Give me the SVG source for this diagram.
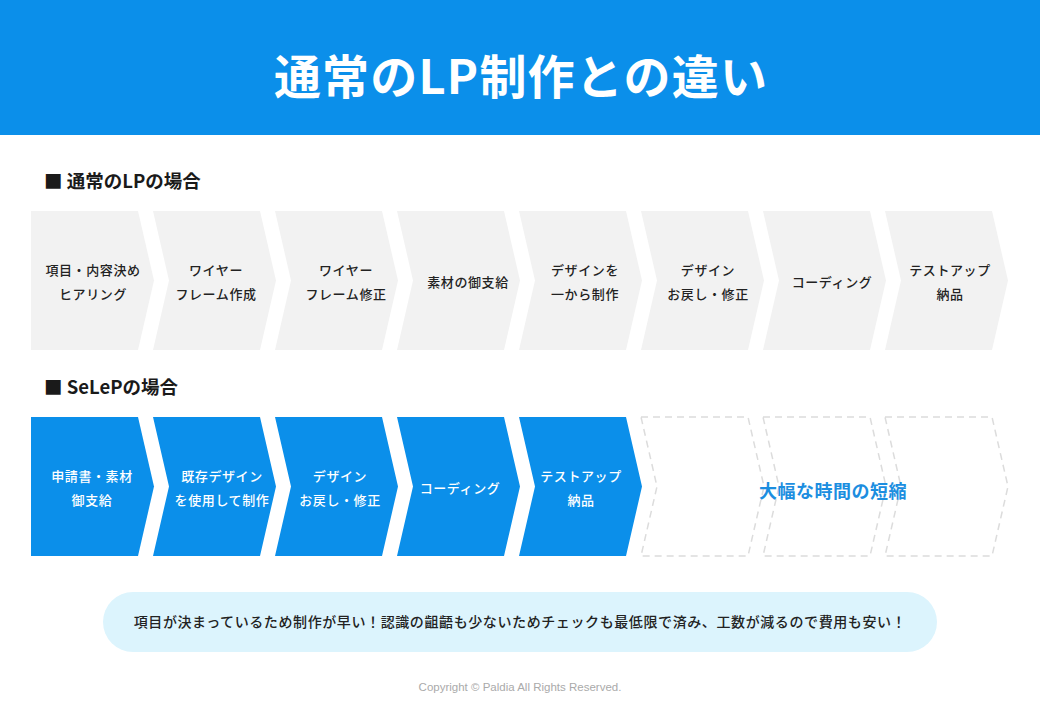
<svg xmlns="http://www.w3.org/2000/svg" width="1040" height="720" viewBox="0 0 1040 720">
<style>
  text { font-family: "Noto Sans CJK JP", "Noto Sans", sans-serif; }
  .title { font-size: 47px; font-weight: 700; fill: #ffffff; letter-spacing: 1.2px; }
  .head { font-size: 18.5px; font-weight: 700; fill: #1a1a1a; }
  .grey { fill: #f2f2f2; }
  .blue { fill: #0b8fea; }
  .dash { fill: none; stroke: #dcdcdc; stroke-width: 1.5; stroke-dasharray: 7 5; }
  .lbl { font-size: 13px; font-weight: 500; fill: #222222; text-anchor: middle; letter-spacing: 0.6px; }
  .lblw { font-size: 13px; font-weight: 500; fill: #ffffff; text-anchor: middle; letter-spacing: 0.6px; }
  .big { font-size: 18px; font-weight: 700; fill: #1c8ee0; text-anchor: middle; letter-spacing: 0.5px; }
  .note { font-size: 14px; font-weight: 500; fill: #222222; text-anchor: middle; letter-spacing: 0.6px; }
  .copy { font-family: "Liberation Sans", Arial, sans-serif; font-size: 11.5px; fill: #aaaaaa; text-anchor: middle; }
</style>
<rect x="0" y="0" width="1040" height="720" fill="#ffffff"/>
<g id="header">
  <rect x="0" y="0" width="1040" height="135" fill="#0b8fea"/>
  <text class="title" x="521" y="94" text-anchor="middle">通常のLP制作との違い</text>
</g>
<g id="heading-normal"><text class="head" x="44" y="188">■ 通常のLPの場合</text></g>
<g id="heading-selep"><text class="head" x="44" y="394">■ SeLePの場合</text></g>

<g id="n1-1"><path class="grey" d="M31,211 L138,211 L154,280.5 L138,350 L31,350 Z"/>
  <text class="lbl" x="93" y="275">項目・内容決め</text><text class="lbl" x="93" y="299">ヒアリング</text></g>
<g id="n1-2"><path class="grey" d="M153,211 L260,211 L276,280.5 L260,350 L153,350 L169,280.5 Z"/>
  <text class="lbl" x="216" y="275">ワイヤー</text><text class="lbl" x="216" y="299">フレーム作成</text></g>
<g id="n1-3"><path class="grey" d="M275,211 L382,211 L398,280.5 L382,350 L275,350 L291,280.5 Z"/>
  <text class="lbl" x="346" y="275">ワイヤー</text><text class="lbl" x="346" y="299">フレーム修正</text></g>
<g id="n1-4"><path class="grey" d="M397,211 L504,211 L520,280.5 L504,350 L397,350 L413,280.5 Z"/>
  <text class="lbl" x="468" y="287">素材の御支給</text></g>
<g id="n1-5"><path class="grey" d="M519,211 L626,211 L642,280.5 L626,350 L519,350 L535,280.5 Z"/>
  <text class="lbl" x="585" y="275">デザインを</text><text class="lbl" x="585" y="299">一から制作</text></g>
<g id="n1-6"><path class="grey" d="M641,211 L748,211 L764,280.5 L748,350 L641,350 L657,280.5 Z"/>
  <text class="lbl" x="708" y="275">デザイン</text><text class="lbl" x="708" y="299">お戻し・修正</text></g>
<g id="n1-7"><path class="grey" d="M763,211 L870,211 L886,280.5 L870,350 L763,350 L779,280.5 Z"/>
  <text class="lbl" x="832" y="287">コーディング</text></g>
<g id="n1-8"><path class="grey" d="M885,211 L992,211 L1008,280.5 L992,350 L885,350 L901,280.5 Z"/>
  <text class="lbl" x="950" y="275">テストアップ</text><text class="lbl" x="950" y="299">納品</text></g>

<g id="n2-1"><path class="blue" d="M31,417 L138,417 L154,486.5 L138,556 L31,556 Z"/>
  <text class="lblw" x="92" y="481">申請書・素材</text><text class="lblw" x="92" y="505">御支給</text></g>
<g id="n2-2"><path class="blue" d="M153,417 L260,417 L276,486.5 L260,556 L153,556 L169,486.5 Z"/>
  <text class="lblw" x="222" y="481">既存デザイン</text><text class="lblw" x="222" y="505">を使用して制作</text></g>
<g id="n2-3"><path class="blue" d="M275,417 L382,417 L398,486.5 L382,556 L275,556 L291,486.5 Z"/>
  <text class="lblw" x="340" y="481">デザイン</text><text class="lblw" x="340" y="505">お戻し・修正</text></g>
<g id="n2-4"><path class="blue" d="M397,417 L504,417 L520,486.5 L504,556 L397,556 L413,486.5 Z"/>
  <text class="lblw" x="460" y="493">コーディング</text></g>
<g id="n2-5"><path class="blue" d="M519,417 L626,417 L642,486.5 L626,556 L519,556 L535,486.5 Z"/>
  <text class="lblw" x="581" y="481">テストアップ</text><text class="lblw" x="581" y="505">納品</text></g>
<g id="n2-6"><path class="dash" d="M641,417 L748,417 L764,486.5 L748,556 L641,556 L657,486.5 Z"/></g>
<g id="n2-7"><path class="dash" d="M763,417 L870,417 L886,486.5 L870,556 L763,556 L779,486.5 Z"/></g>
<g id="n2-8"><path class="dash" d="M885,417 L992,417 L1008,486.5 L992,556 L885,556 L901,486.5 Z"/></g>
<g id="shortening"><text class="big" x="833" y="498">大幅な時間の短縮</text></g>

<g id="note">
  <rect x="103" y="592" width="834" height="60" rx="30" ry="30" fill="#dcf4fd"/>
  <text class="note" x="520" y="627">項目が決まっているため制作が早い！認識の齟齬も少ないためチェックも最低限で済み、工数が減るので費用も安い！</text>
</g>
<g id="connectors"></g>
<g id="footer"><text class="copy" x="520" y="691">Copyright © Paldia All Rights Reserved.</text></g>
</svg>
